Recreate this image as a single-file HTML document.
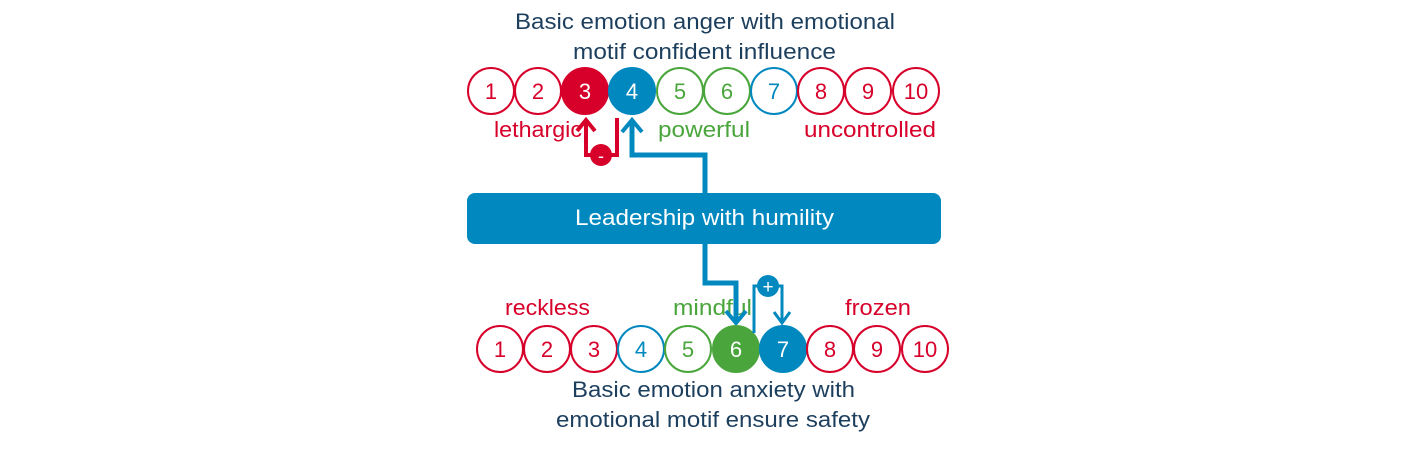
<!DOCTYPE html>
<html><head><meta charset="utf-8"><style>
html,body{margin:0;padding:0;background:#fff;width:1417px;height:451px;overflow:hidden}
svg{display:block}
text{font-family:"Liberation Sans",sans-serif;font-size:22px}
</style></head><body>
<svg width="1417" height="451" viewBox="0 0 1417 451">
<g fill="#1d3f5e" text-anchor="start">
<text x="515" y="29" textLength="380" lengthAdjust="spacingAndGlyphs">Basic emotion anger with emotional</text>
<text x="573" y="59" textLength="263" lengthAdjust="spacingAndGlyphs">motif confident influence</text>
<text x="572" y="397" textLength="283" lengthAdjust="spacingAndGlyphs">Basic emotion anxiety with</text>
<text x="556" y="427" textLength="314" lengthAdjust="spacingAndGlyphs">emotional motif ensure safety</text>
</g>
<!-- top circles -->
<g stroke-width="2" text-anchor="middle">
<circle cx="491" cy="91" r="23" fill="#fff" stroke="#d7002a"/><text x="491" y="99" fill="#d7002a" stroke="none">1</text>
<circle cx="538" cy="91" r="23" fill="#fff" stroke="#d7002a"/><text x="538" y="99" fill="#d7002a" stroke="none">2</text>
<circle cx="585" cy="91" r="23" fill="#d7002a" stroke="#d7002a"/><text x="585" y="99" fill="#fff" stroke="none">3</text>
<circle cx="632" cy="91" r="23" fill="#0088bf" stroke="#0088bf"/><text x="632" y="99" fill="#fff" stroke="none">4</text>
<circle cx="680" cy="91" r="23" fill="#fff" stroke="#4aa63c"/><text x="680" y="99" fill="#4aa63c" stroke="none">5</text>
<circle cx="727" cy="91" r="23" fill="#fff" stroke="#4aa63c"/><text x="727" y="99" fill="#4aa63c" stroke="none">6</text>
<circle cx="774" cy="91" r="23" fill="#fff" stroke="#0088bf"/><text x="774" y="99" fill="#0088bf" stroke="none">7</text>
<circle cx="821" cy="91" r="23" fill="#fff" stroke="#d7002a"/><text x="821" y="99" fill="#d7002a" stroke="none">8</text>
<circle cx="868" cy="91" r="23" fill="#fff" stroke="#d7002a"/><text x="868" y="99" fill="#d7002a" stroke="none">9</text>
<circle cx="916" cy="91" r="23" fill="#fff" stroke="#d7002a"/><text x="916" y="99" fill="#d7002a" stroke="none">10</text>
</g>
<g>
<text x="494" y="137" fill="#d7002a" textLength="88" lengthAdjust="spacingAndGlyphs">lethargic</text>
<text x="658" y="137" fill="#4aa63c" textLength="92" lengthAdjust="spacingAndGlyphs">powerful</text>
<text x="804" y="137" fill="#d7002a" textLength="132" lengthAdjust="spacingAndGlyphs">uncontrolled</text>
</g>
<!-- red minus loop -->
<g fill="none" stroke="#d7002a" stroke-width="4">
<path d="M617 118 V155 H586 V120"/>
<path d="M577 131 L586 120 L595 131" stroke-width="4"/>
</g>
<circle cx="601" cy="155" r="11" fill="#d7002a"/>
<text x="601" y="162" fill="#fff" text-anchor="middle" style="font-size:18px">-</text>
<!-- blue to 4 -->
<g fill="none" stroke="#0088bf" stroke-width="5">
<path d="M705 193 V155 H632 V120"/>
<path d="M622 132 L632 120 L642 132" stroke-width="4"/>
</g>
<rect x="467" y="193" width="474" height="51" rx="8" fill="#0088bf"/>
<text x="575" y="225" fill="#fff" textLength="259" lengthAdjust="spacingAndGlyphs">Leadership with humility</text>
<!-- bottom labels -->
<text x="505" y="315" fill="#d7002a" textLength="85" lengthAdjust="spacingAndGlyphs">reckless</text>
<text x="673" y="315" fill="#4aa63c" textLength="79" lengthAdjust="spacingAndGlyphs">mindful</text>
<text x="845" y="315" fill="#d7002a" textLength="66" lengthAdjust="spacingAndGlyphs">frozen</text>
<!-- blue to 6 -->
<g fill="none" stroke="#0088bf" stroke-width="5">
<path d="M705 244 V283 H736 V322"/>
<path d="M726 311 L736 323 L746 311" stroke-width="4"/>
</g>
<!-- bottom circles -->
<g stroke-width="2" text-anchor="middle">
<circle cx="500" cy="349" r="23" fill="#fff" stroke="#d7002a"/><text x="500" y="357" fill="#d7002a" stroke="none">1</text>
<circle cx="547" cy="349" r="23" fill="#fff" stroke="#d7002a"/><text x="547" y="357" fill="#d7002a" stroke="none">2</text>
<circle cx="594" cy="349" r="23" fill="#fff" stroke="#d7002a"/><text x="594" y="357" fill="#d7002a" stroke="none">3</text>
<circle cx="641" cy="349" r="23" fill="#fff" stroke="#0088bf"/><text x="641" y="357" fill="#0088bf" stroke="none">4</text>
<circle cx="688" cy="349" r="23" fill="#fff" stroke="#4aa63c"/><text x="688" y="357" fill="#4aa63c" stroke="none">5</text>
<circle cx="736" cy="349" r="23" fill="#4aa63c" stroke="#4aa63c"/><text x="736" y="357" fill="#fff" stroke="none">6</text>
<circle cx="783" cy="349" r="23" fill="#0088bf" stroke="#0088bf"/><text x="783" y="357" fill="#fff" stroke="none">7</text>
<circle cx="830" cy="349" r="23" fill="#fff" stroke="#d7002a"/><text x="830" y="357" fill="#d7002a" stroke="none">8</text>
<circle cx="877" cy="349" r="23" fill="#fff" stroke="#d7002a"/><text x="877" y="357" fill="#d7002a" stroke="none">9</text>
<circle cx="925" cy="349" r="23" fill="#fff" stroke="#d7002a"/><text x="925" y="357" fill="#d7002a" stroke="none">10</text>
</g>
<!-- plus loop -->
<g fill="none" stroke="#0088bf" stroke-width="3">
<path d="M754 333 V286 H782 V322"/>
<path d="M774 312 L782 323 L790 312"/>
</g>
<circle cx="768" cy="286" r="11" fill="#0088bf"/>
<text x="768" y="293" fill="#fff" text-anchor="middle" style="font-size:19px">+</text>
</svg>
</body></html>
